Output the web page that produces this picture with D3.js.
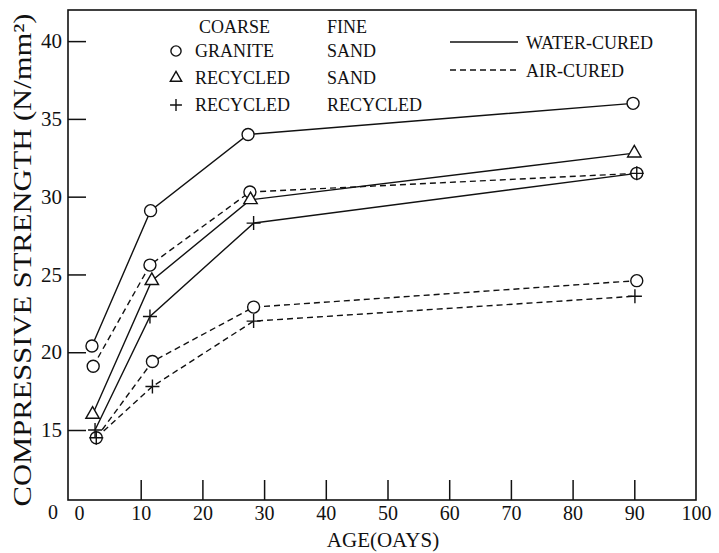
<!DOCTYPE html>
<html>
<head>
<meta charset="utf-8">
<script src="https://cdn.jsdelivr.net/npm/d3@7"></script>
</head>
<body style="margin:0;background:#fff">
<div id="chart"></div>
<script>
// ages (days) and strengths (N/mm2)
const wGraniteAge = [2.1, 11.6, 27.4, 89.8];
const wGraniteVal = [20.4, 29.1, 34.0, 36.0];
const aGraniteAge = [2.3, 11.5, 27.7, 90.4];
const aGraniteVal = [19.1, 25.6, 30.3, 31.5];
const wRecSandAge = [2.2, 11.8, 27.8, 90.0];
const wRecSandVal = [16.0, 24.6, 29.8, 32.8];
const wRecRecAge = [2.6, 11.5, 28.3, 90.4];
const wRecRecVal = [15.0, 22.3, 28.3, 31.5];
const aLowCircleAge = [2.8, 11.9, 28.3, 90.4];
const aLowCircleVal = [14.5, 19.4, 22.9, 24.6];
const aLowPlusAge = [2.8, 11.9, 28.3, 90.1];
const aLowPlusVal = [14.5, 17.8, 22.0, 23.6];

const xTicks = [0, 10, 20, 30, 40, 50, 60, 70, 80, 90, 100];
const yTicks = [15, 20, 25, 30, 35, 40];

const legendMarkers = ["circle", "triangle", "plus"];
const legendCoarse = ["GRANITE", "RECYCLED", "RECYCLED"];
const legendFine = ["SAND", "SAND", "RECYCLED"];
const curingNames = ["WATER-CURED", "AIR-CURED"];

const FONT = "Liberation Serif";

function zip(ages, vals){
	return ages.map((a,i)=>({age:a, val:vals[i]}));
}

const series = [
	{pts: zip(wGraniteAge, wGraniteVal), air:false, marker:"circle"},
	{pts: zip(aGraniteAge, aGraniteVal), air:true, marker:"circle"},
	{pts: zip(wRecSandAge, wRecSandVal), air:false, marker:"triangle"},
	{pts: zip(wRecRecAge, wRecRecVal), air:false, marker:"plus"},
	{pts: zip(aLowCircleAge, aLowCircleVal), air:true, marker:"circle"},
	{pts: zip(aLowPlusAge, aLowPlusVal), air:true, marker:"plus"}
];

const W = 719, H = 553;
const frame = {left:68, right:696, top:10, bottom:500};

const x = d3.scaleLinear().domain([0, 100]).range([79, 696]);
const y = d3.scaleLinear().domain([10.5, 42]).range([500, 10]);

const svg = d3.select("#chart").append("svg")
	.attr("width", W)
	.attr("height", H)
	.attr("font-family", FONT);

// every label goes through here so the serif face is set on the element itself
function label(g, txt, size){
	return g.append("text")
		.attr("font-family", FONT)
		.style("font-family", FONT)
		.attr("font-size", size)
		.attr("fill", "#111")
		.text(txt);
}

// frame
svg.append("rect")
	.attr("x", frame.left).attr("y", frame.top)
	.attr("width", frame.right - frame.left)
	.attr("height", frame.bottom - frame.top)
	.attr("fill", "none").attr("stroke", "#111").attr("stroke-width", 1.6);

// x axis, ticks point inward
const xAxis = svg.append("g")
	.attr("transform", "translate(0," + frame.bottom + ")")
	.call(d3.axisBottom(x).tickValues(xTicks).tickSizeInner(-20).tickSizeOuter(0).tickPadding(6));
xAxis.attr("font-family", FONT);
xAxis.select(".domain").remove();
xAxis.selectAll(".tick line")
	.attr("stroke", "#111").attr("stroke-width", 1.5)
	.filter(d => d === 0 || d === 100).remove();
xAxis.selectAll(".tick text")
	.attr("font-family", FONT).style("font-family", FONT)
	.attr("font-size", 20).attr("fill", "#111");

// y axis, ticks point inward
const yAxis = svg.append("g")
	.attr("transform", "translate(" + frame.left + ",0)")
	.call(d3.axisLeft(y).tickValues(yTicks).tickSizeInner(-18).tickSizeOuter(0).tickPadding(6));
yAxis.attr("font-family", FONT);
yAxis.select(".domain").remove();
yAxis.selectAll(".tick line").attr("stroke", "#111").attr("stroke-width", 1.5);
yAxis.selectAll(".tick text")
	.attr("font-family", FONT).style("font-family", FONT)
	.attr("font-size", 21).attr("fill", "#111");

// broken axis origin label
label(svg, "0", 20).attr("x", 53).attr("y", 519).attr("text-anchor", "middle");

// axis titles
label(svg, "COMPRESSIVE STRENGTH (N/mm²)", 25)
	.attr("transform", "translate(31,260) rotate(-90)")
	.attr("text-anchor", "middle")
	.attr("textLength", 493).attr("lengthAdjust", "spacingAndGlyphs");

label(svg, "AGE(OAYS)", 21).attr("x", 383).attr("y", 547).attr("text-anchor", "middle");

// lines
const line = d3.line().x(d => x(d.age)).y(d => y(d.val));
svg.append("g").selectAll("path")
	.data(series).enter().append("path")
	.attr("d", d => line(d.pts))
	.attr("fill", "none")
	.attr("stroke", "#111")
	.attr("stroke-width", 1.4)
	.attr("stroke-dasharray", d => d.air ? "6,4" : null);

function drawMarker(g, type, cx, cy, s){
	if(type === "circle"){
		g.append("circle").attr("cx", cx).attr("cy", cy).attr("r", 6*s)
			.attr("fill", "#fff").attr("stroke", "#111").attr("stroke-width", 1.4);
	}else if(type === "triangle"){
		g.append("path").attr("d", d3.symbol(d3.symbolTriangle, 78*s*s)())
			.attr("transform", "translate(" + cx + "," + cy + ")")
			.attr("fill", "#fff").attr("stroke", "#111").attr("stroke-width", 1.4);
	}else{
		let h = 7*s;
		g.append("path").attr("d", "M" + (-h) + ",0H" + h + "M0," + (-h) + "V" + h)
			.attr("transform", "translate(" + cx + "," + cy + ")")
			.attr("fill", "none").attr("stroke", "#111").attr("stroke-width", 1.4);
	}
}

// markers: circles and triangles first, crosses on top
const marks = svg.append("g");
["circle", "triangle", "plus"].forEach(function(type){
	series.filter(s => s.marker === type).forEach(function(s){
		s.pts.forEach(p => drawMarker(marks, type, x(p.age), y(p.val), 1));
	});
});

// legend: materials
const leg = svg.append("g");
label(leg, "COARSE", 18).attr("x", 199).attr("y", 33);
label(leg, "FINE", 18).attr("x", 327).attr("y", 33);
legendMarkers.forEach(function(m, i){
	let yy = 57 + i*27;
	drawMarker(leg, m, 176, yy - 6, 0.85);
	label(leg, legendCoarse[i], 18).attr("x", 195).attr("y", yy);
	label(leg, legendFine[i], 18).attr("x", 327).attr("y", yy);
});

// legend: curing
curingNames.forEach(function(name, i){
	let yy = 42 + i*28;
	leg.append("line")
		.attr("x1", 450).attr("x2", 518).attr("y1", yy).attr("y2", yy)
		.attr("stroke", "#111").attr("stroke-width", 1.4)
		.attr("stroke-dasharray", i === 1 ? "6,4" : null);
	label(leg, name, 18).attr("x", 526).attr("y", yy + 7);
});
</script>
</body>
</html>
